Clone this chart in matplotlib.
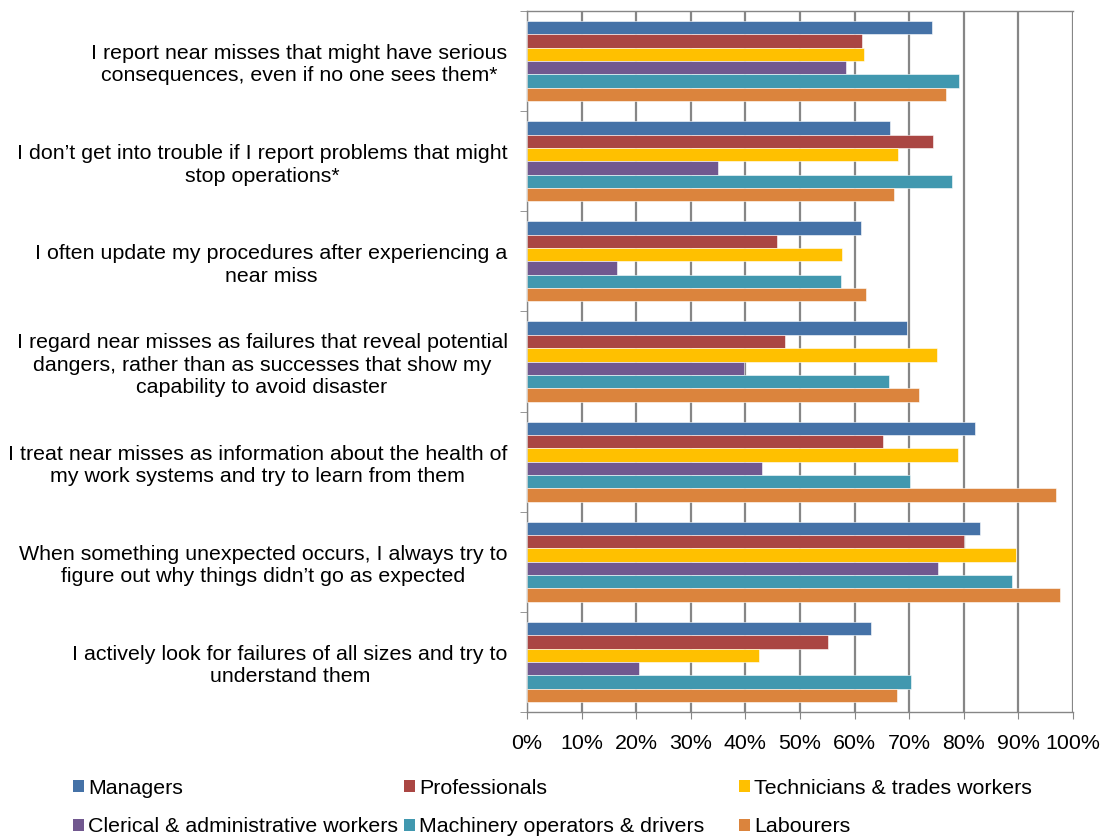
import matplotlib
matplotlib.use("Agg")
import matplotlib.pyplot as plt
from matplotlib.patches import Patch
import numpy as np

plt.rcParams['font.family'] = ['Liberation Sans', 'DejaVu Sans']

# statements, top to bottom
statements = [
    "I report near misses that might have serious\nconsequences, even if no one sees them*",
    "I don\u2019t get into trouble if I report problems that might\nstop operations*",
    "I often update my procedures after experiencing a\nnear miss",
    "I regard near misses as failures that reveal potential\ndangers, rather than as successes that show my\ncapability to avoid disaster",
    "I treat near misses as information about the health of\nmy work systems and try to learn from them",
    "When something unexpected occurs, I always try to\nfigure out why things didn\u2019t go as expected",
    "I actively look for failures of all sizes and try to\nunderstand them",
]

groups = ["Managers", "Professionals", "Technicians & trades workers",
          "Clerical & administrative workers", "Machinery operators & drivers",
          "Labourers"]

# percent agreeing, one list per occupation group (same order as statements)
managers      = [74.2, 66.4, 61.2, 69.6, 82.0, 82.9, 63.0]
professionals = [61.4, 74.3, 45.8, 47.3, 65.2, 80.1, 55.1]
technicians   = [61.8, 68.0, 57.7, 75.1, 79.0, 89.5, 42.5]
clerical      = [58.5, 35.0, 16.5, 39.7, 43.1, 75.2, 20.5]
machinery     = [79.2, 77.9, 57.6, 66.3, 70.1, 88.9, 70.3]
labourers     = [76.8, 67.2, 62.1, 71.8, 96.9, 97.6, 67.7]

series = [managers, professionals, technicians, clerical, machinery, labourers]
colors = ["#4572A7", "#AA4643", "#FFC000", "#71588F", "#4198AF", "#DB843D"]

FS = 15.4

fig = plt.figure(figsize=(11.12, 8.36), dpi=100)
ax = fig.add_axes([527 / 1112, 1 - 712 / 836, 546 / 1112, 701 / 836])

n = len(statements)
bar_h = 0.8 / len(series)
base = np.arange(n)
for j, (vals, col) in enumerate(zip(series, colors)):
    y = base + 0.1 + (j + 0.5) * bar_h
    ax.barh(y, np.array(vals) / 100.0, height=bar_h, color=col,
            edgecolor='white', linewidth=0.4, label=groups[j], zorder=3)

ax.set_ylim(n, 0)
ax.set_xlim(0, 1)

grid_col = "#868686"
ax.set_xticks(np.arange(0, 1.01, 0.1))
ax.set_xticklabels(["%d%%" % v for v in range(0, 101, 10)], fontsize=FS)
ax.xaxis.grid(True, color=grid_col, linewidth=1.6, zorder=0)
ax.tick_params(axis='x', direction='out', length=5, color=grid_col, pad=11)

ax.set_yticks(base + 0.5)
ax.set_yticklabels(statements, fontsize=FS, multialignment='center',
                   linespacing=1.22)
ax.tick_params(axis='y', which='major', length=0, pad=14)
ax.set_yticks(np.arange(0, n + 1), minor=True)
ax.tick_params(axis='y', which='minor', direction='out', length=5,
               color=grid_col)

for s in ax.spines.values():
    s.set_color(grid_col)
    s.set_linewidth(1.0)
ax.spines['right'].set_visible(False)

# legend laid out in three columns like the original
handles = [Patch(facecolor=c, edgecolor='none') for c in colors]
col_x = [73, 404, 739]
for k in range(3):
    fig.legend([handles[k], handles[k + 3]], [groups[k], groups[k + 3]],
               loc='center left', bbox_to_anchor=(col_x[k] / 1112, 1 - 807.5 / 836),
               frameon=False, fontsize=FS, handlelength=0.5, handleheight=0.5,
               handletextpad=0.2, labelspacing=0.92, borderpad=0, borderaxespad=0)

fig.savefig("out.png", dpi=100)
